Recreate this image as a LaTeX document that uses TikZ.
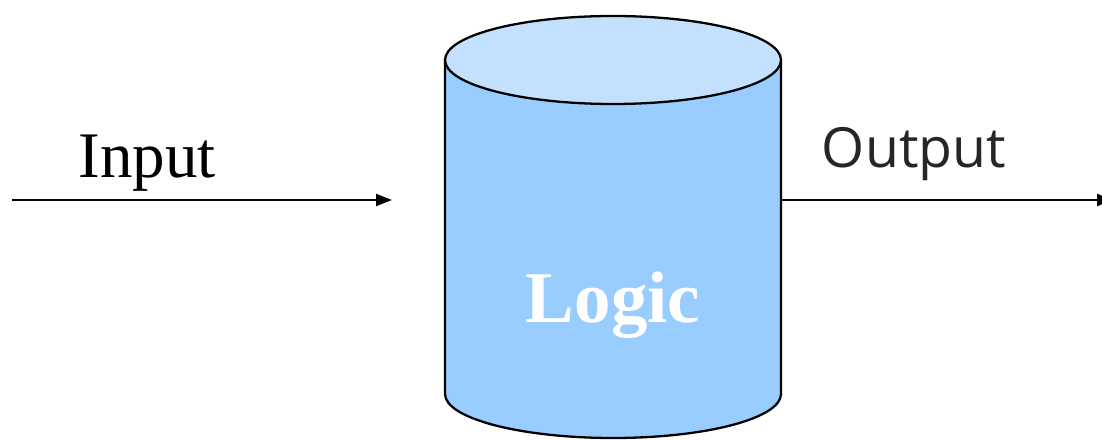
\documentclass[tikz,border=0pt]{standalone}
\usepackage{fontspec}
\setmainfont{Liberation Serif}
\newfontfamily\outfont{Open Sans}
\usetikzlibrary{arrows.meta, positioning}
\definecolor{cylbody}{HTML}{99CCFF}
\definecolor{cyltop}{HTML}{C4E0FF}
\definecolor{outgray}{HTML}{262626}

\begin{document}
\begin{tikzpicture}[x=0.02cm, y=0.02cm,
    cyl/.style={draw=black, line width=1.3pt},
    arrow/.style={-{Triangle[length=0.32cm, width=0.24cm]}, line width=1.2pt},
    label/.style={anchor=base, inner sep=0pt}]
    \useasboundingbox (0,0) rectangle (1102,440);

    % cylinder
    \filldraw[cyl, fill=cylbody] (445,380) -- (445,46)
        arc[start angle=180, end angle=360, x radius=168, y radius=44] -- (781,380) -- cycle;
    \filldraw[cyl, fill=cyltop] (613,380) ellipse[x radius=168, y radius=44];
    \node[label, text=white, font=\fontsize{41.5}{41.5}\selectfont\bfseries] (logic) at (613,118) {Logic};
    \coordinate (cylright) at (781,240);

    \coordinate (instart) at (12,240);
    \coordinate (inend) at (392,240);
    \coordinate (outend) at (1113,240);

    \draw[arrow] (instart) -- (inend);
    \draw[arrow] (cylright) -- (outend);

    \node[label, font=\fontsize{37}{37}\selectfont] (input) at (147,262) {Input};
    \node[label, text=outgray, font=\outfont\fontsize{31.5}{31.5}\selectfont] (output) at (914,272) {Output};
\end{tikzpicture}
\end{document}
